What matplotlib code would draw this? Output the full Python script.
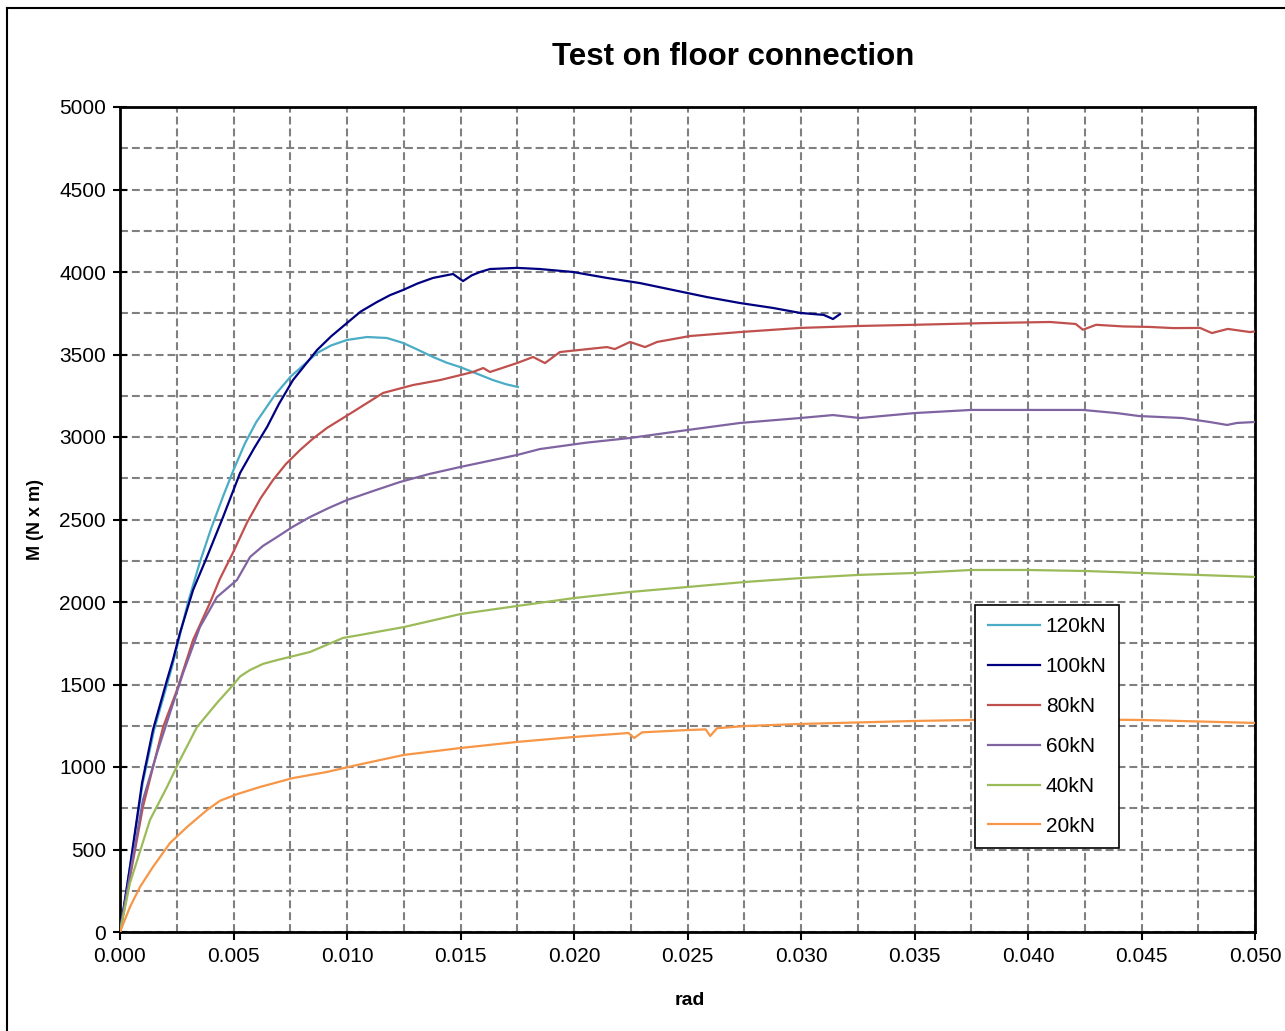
import matplotlib
matplotlib.use("Agg")
import matplotlib.pyplot as plt
from matplotlib.ticker import MultipleLocator, FormatStrFormatter
from matplotlib.lines import Line2D

plt.rcParams['font.family'] = ['Liberation Sans', 'DejaVu Sans']

title = "Test on floor connection"
xlabel = "rad"
ylabel = "M (N x m)"

# 120kN
x120 = [0, 0.0010, 0.0015, 0.00229, 0.00300, 0.00352, 0.0040, 0.00454, 0.0050, 0.0055, 0.0060,
        0.0068, 0.0075, 0.00868, 0.0093, 0.0100, 0.01088, 0.01176, 0.01247, 0.0131, 0.01379,
        0.01440, 0.01498, 0.0157, 0.01643, 0.0170, 0.01753]
m120 = [0, 903, 1224, 1606, 2000, 2242, 2440, 2640, 2800, 2960, 3090,
        3250, 3364, 3509, 3555, 3588, 3606, 3600, 3570, 3530, 3485,
        3450, 3424, 3385, 3345, 3320, 3303]

# 100kN
x100 = [0, 0.00044, 0.00097, 0.00145, 0.00207, 0.00233, 0.00264, 0.00322, 0.00383, 0.00454,
        0.00529, 0.0059, 0.00648, 0.0070, 0.00762, 0.00868, 0.0093, 0.0100, 0.0106, 0.01132,
        0.0119, 0.01247, 0.0131, 0.01379, 0.01467, 0.01511, 0.0155, 0.01586, 0.0163, 0.01749,
        0.0185, 0.01996, 0.02145, 0.0229, 0.02436, 0.02586, 0.02731, 0.02877, 0.02996, 0.03100,
        0.03141, 0.03172]
m100 = [0, 394, 903, 1224, 1527, 1648, 1812, 2073, 2273, 2515,
        2782, 2930, 3061, 3200, 3345, 3527, 3610, 3691, 3760, 3818,
        3860, 3891, 3930, 3964, 3988, 3945, 3980, 4000, 4018, 4025,
        4018, 4000, 3964, 3933, 3891, 3848, 3812, 3782, 3752, 3740,
        3715, 3745]

# 80kN
x80 = [0, 0.00101, 0.0019, 0.00251, 0.00322, 0.00396, 0.0044, 0.00498, 0.00559, 0.0062, 0.00674,
       0.0073, 0.00793, 0.0085, 0.00912, 0.01026, 0.01159, 0.01291, 0.0141, 0.01555, 0.016,
       0.0163, 0.01749, 0.0182, 0.01872, 0.01938, 0.02145, 0.0218, 0.02247, 0.02313, 0.02366,
       0.02511, 0.02731, 0.02996, 0.0326, 0.0350, 0.0380, 0.04097, 0.04210, 0.04242, 0.04300,
       0.04420, 0.04537, 0.04640, 0.04758, 0.04810, 0.04880, 0.04978, 0.0500]
m80 = [0, 758, 1242, 1467, 1770, 1994, 2140, 2300, 2480, 2630, 2739,
       2835, 2921, 2990, 3055, 3152, 3267, 3315, 3345, 3394, 3418,
       3394, 3448, 3485, 3448, 3515, 3545, 3533, 3576, 3545, 3576,
       3612, 3636, 3661, 3673, 3680, 3690, 3697, 3685, 3650, 3680,
       3670, 3667, 3660, 3661, 3630, 3655, 3636, 3640]

# 60kN
x60 = [0, 0.00101, 0.00163, 0.0022, 0.00278, 0.00352, 0.00427, 0.00515, 0.00573, 0.0063,
       0.00692, 0.0076, 0.00837, 0.0092, 0.0100, 0.0112, 0.01233, 0.0136, 0.01498, 0.01749,
       0.0185, 0.0205, 0.02247, 0.02498, 0.02731, 0.02996, 0.03141, 0.0326, 0.0350, 0.0375,
       0.0400, 0.04242, 0.04390, 0.0449, 0.04680, 0.04800, 0.04877, 0.04920, 0.0500]
m60 = [0, 800, 1085, 1327, 1570, 1848, 2030, 2133, 2273, 2340,
       2394, 2455, 2515, 2570, 2618, 2675, 2727, 2775, 2818, 2891,
       2927, 2965, 2994, 3042, 3085, 3115, 3133, 3115, 3145, 3164,
       3164, 3164, 3145, 3127, 3115, 3091, 3073, 3085, 3091]

# 40kN
x40 = [0, 0.00044, 0.00132, 0.00207, 0.00264, 0.00339, 0.00427, 0.00498, 0.0053, 0.00573,
       0.0063, 0.00692, 0.00837, 0.00982, 0.01057, 0.0125, 0.0150, 0.0175, 0.0200, 0.0225,
       0.0250, 0.0275, 0.0300, 0.0325, 0.0350, 0.0375, 0.0400, 0.0425, 0.0450, 0.0475, 0.0500]
m40 = [0, 297, 679, 879, 1042, 1242, 1388, 1497, 1550, 1588,
       1625, 1648, 1697, 1782, 1800, 1848, 1927, 1976, 2024, 2061,
       2091, 2121, 2145, 2164, 2176, 2194, 2194, 2188, 2176, 2164, 2152]

# 20kN
x20 = [0, 0.00044, 0.00088, 0.00145, 0.0022, 0.00295, 0.00383, 0.0044, 0.00515, 0.00617,
       0.00762, 0.00912, 0.01044, 0.0125, 0.0150, 0.0175, 0.0200, 0.0224, 0.02265, 0.0230,
       0.0250, 0.02580, 0.02600, 0.0263, 0.0275, 0.0300, 0.0350, 0.0400, 0.0450, 0.0500]
m20 = [0, 152, 273, 394, 539, 636, 739, 795, 835, 879,
       933, 970, 1012, 1073, 1115, 1152, 1182, 1206, 1176, 1210,
       1224, 1228, 1188, 1235, 1248, 1261, 1279, 1291, 1285, 1267]

series = [
    ("120kN", x120, m120, "#4BACC6"),
    ("100kN", x100, m100, "#000080"),
    ("80kN", x80, m80, "#C0504D"),
    ("60kN", x60, m60, "#8064A2"),
    ("40kN", x40, m40, "#9BBB59"),
    ("20kN", x20, m20, "#F79646"),
]

W, H = 1285, 1031
fig = plt.figure(figsize=(W / 100, H / 100), dpi=100)
ax = fig.add_axes([120 / W, (H - 932) / H, (1255 - 120) / W, (932 - 107) / H])

for label, xs, ms, c in series:
    ax.plot(xs, ms, color=c, lw=1.6, label=label, zorder=3)

ax.set_xlim(0, 0.05)
ax.set_ylim(0, 5000)
ax.xaxis.set_major_locator(MultipleLocator(0.005))
ax.xaxis.set_minor_locator(MultipleLocator(0.0025))
ax.yaxis.set_major_locator(MultipleLocator(500))
ax.yaxis.set_minor_locator(MultipleLocator(250))
ax.xaxis.set_major_formatter(FormatStrFormatter('%.3f'))
ax.grid(True, which='both', color='#808080', lw=1.5, linestyle=(0, (3.8, 1.9)), zorder=1)
ax.set_axisbelow(True)

ax.tick_params(axis='x', which='major', direction='out', length=6, width=1.5,
               labelsize=15, pad=5, colors='black')
ax.tick_params(axis='y', which='major', direction='inout', length=10, width=1.5,
               labelsize=15, pad=5, colors='black')
ax.tick_params(which='minor', length=0)
for s in ax.spines.values():
    s.set_linewidth(2)
    s.set_color('black')

fig.text(733 / W, 1 - 57 / H, title, fontsize=22.5, fontweight='bold',
         ha='center', va='center')
ax.set_xlabel(xlabel, fontsize=14, fontweight='bold')
ax.set_ylabel(ylabel, fontsize=13, fontweight='bold')
ax.xaxis.set_label_coords((690 - 120) / (1255 - 120), -(992 - 932) / 825)
ax.yaxis.set_label_coords(-(120 - 44) / (1255 - 120), (932 - 520) / 825)

leg = ax.legend(loc='upper left', bbox_to_anchor=(975 / W, 1 - 605 / H),
                bbox_transform=fig.transFigure, fontsize=15, frameon=True,
                fancybox=False, edgecolor='black', framealpha=1,
                handlelength=2.5, handletextpad=0.3, labelspacing=1.0,
                borderpad=0.6, borderaxespad=0)
leg.get_frame().set_linewidth(1.2)

fig.add_artist(Line2D([6.5 / W, 6.5 / W], [0, 1 - 7.5 / H], transform=fig.transFigure,
                      color='black', lw=1.5))
fig.add_artist(Line2D([6.5 / W, 1.0], [1 - 7.5 / H, 1 - 7.5 / H], transform=fig.transFigure,
                      color='black', lw=1.5))

fig.savefig("out.png", dpi=100)
